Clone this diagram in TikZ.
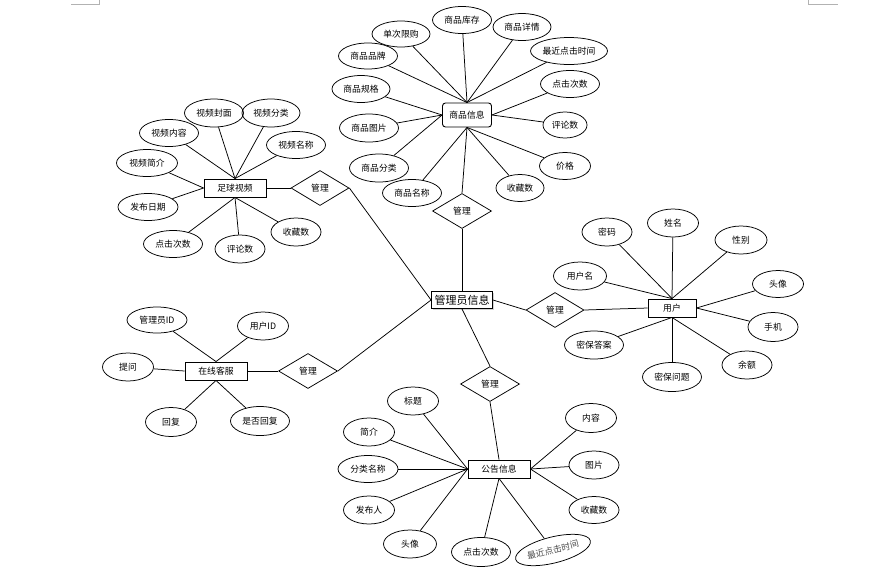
\documentclass[tikz,border=0pt]{standalone}
\usepackage{fontspec}
\setmainfont{Noto Sans CJK SC}
\usetikzlibrary{shapes.geometric,shadows}

\begin{document}
\begin{tikzpicture}[
    x=1pt, y=-1pt,
    attr/.style={ellipse, draw, minimum width=51, minimum height=28, inner sep=0pt, font=\fontsize{8.8}{9}\selectfont},
    attrw/.style={attr, minimum width=59},
    ent/.style={rectangle, draw, line width=0.9pt, minimum width=62, minimum height=18, inner sep=0pt, font=\fontsize{8.8}{9}\selectfont},
    rel/.style={diamond, draw, aspect=1.7, minimum width=59, minimum height=35, inner sep=0pt, font=\fontsize{8.8}{9}\selectfont},
    ln/.style={line width=0.75pt},
    line width=0.75pt
]
\useasboundingbox (0,0) rectangle (885,573);

% page corner marks
\draw[gray!60, line width=0.6pt] (71,4) -- (99,4) -- (99,0);
\draw[gray!60, line width=0.6pt] (808,0) -- (808,4) -- (838,4);

% central entity
\node[ent, minimum width=61, minimum height=17, font=\fontsize{11}{11}\selectfont,
      drop shadow={shadow xshift=1.5pt, shadow yshift=-1.5pt, fill=gray!70}, fill=white] (admin) at (462,300) {管理员信息};

% goods
\node[ent, rounded corners=3pt, minimum width=49, minimum height=24] (goods) at (467,115) {商品信息};
\node[attrw, minimum height=27] (gstock) at (462,20) {商品库存};
\node[attrw, minimum width=58, minimum height=26] (glimit) at (401,34) {单次限购};
\node[attrw, minimum width=58, minimum height=27] (gdetail) at (522,27) {商品详情};
\node[attrw, minimum width=77, minimum height=27] (glast) at (569,51) {最近点击时间};
\node[attrw, minimum height=26] (gbrand) at (368,56) {商品品牌};
\node[attrw, minimum width=58, minimum height=27] (gspec) at (361,89) {商品规格};
\node[attrw] (gpic) at (369,128) {商品图片};
\node[attrw] (gcat) at (379,168) {商品分类};
\node[attrw, minimum height=27] (gclick) at (570,84) {点击次数};
\node[attr, minimum width=44, minimum height=26] (gcomm) at (565,125) {评论数};
\node[attr, minimum height=27] (gprice) at (565,166) {价格};
\node[attr, minimum width=48, minimum height=27] (gfav) at (520,188) {收藏数};
\node[attrw, minimum height=27] (gname) at (412,193) {商品名称};
\node[rel] (mg1) at (462,211) {管理};

\draw[ln] (gstock) -- (goods.north);
\draw[ln] (glimit) -- (goods.north);
\draw[ln] (gdetail) -- (goods.north);
\draw[ln] (glast) -- (goods.north);
\draw[ln] (gbrand) -- (goods.north);
\draw[ln] (gspec) -- (goods.west);
\draw[ln] (gpic) -- (goods.west);
\draw[ln] (gcat) -- (goods.west);
\draw[ln] (gclick) -- (goods.east);
\draw[ln] (gcomm) -- (goods.east);
\draw[ln] (gprice) -- (goods.south);
\draw[ln] (gfav) -- (goods.south);
\draw[ln] (gname) -- (goods.south);
\draw[ln] (mg1.north) -- (goods.south);
\draw[ln] (mg1.south) -- (admin.north);

% video
\node[ent] (video) at (235,188) {足球视频};
\node[attrw] (vcover) at (214,113) {视频封面};
\node[attrw, minimum width=58] (vcat) at (271,113) {视频分类};
\node[attrw, minimum height=27] (vcont) at (169,133) {视频内容};
\node[attrw, minimum height=27] (vname) at (296,145) {视频名称};
\node[attrw, minimum width=61, minimum height=27] (vintro) at (147,163) {视频简介};
\node[attrw, minimum width=60, minimum height=27] (vdate) at (148,207) {发布日期};
\node[attrw, minimum height=27] (vclick) at (173,244) {点击次数};
\node[attr, minimum width=50] (vcomm) at (240,249) {评论数};
\node[attr, minimum width=50] (vfav) at (296,232) {收藏数};
\node[rel, minimum width=58] (mg2) at (320,188) {管理};

\draw[ln] (vcover) -- (video.north);
\draw[ln] (vcat) -- (video.north);
\draw[ln] (vcont) -- (video.north);
\draw[ln] (vname) -- (video.north);
\draw[ln] (vintro) -- (video.west);
\draw[ln] (vdate) -- (video.west);
\draw[ln] (vclick) -- (video.south);
\draw[ln] (vcomm) -- (video.south);
\draw[ln] (vfav) -- (video.south);
\draw[ln] (video.east) -- (mg2.west);
\draw[ln] (mg2.east) -- (admin.west);

% user
\node[ent, minimum width=48] (user) at (672,308) {用户};
\node[attr, minimum width=50] (upwd) at (607,232) {密码};
\node[attr] (uname) at (673,223) {姓名};
\node[attr, minimum width=52] (usex) at (741,240) {性别};
\node[attr, minimum width=53] (ulogin) at (580,276) {用户名};
\node[attr, minimum height=27] (uavatar) at (778,284) {头像};
\node[attr, minimum width=50, minimum height=29] (uphone) at (773,327) {手机};
\node[attr, minimum width=50] (ubal) at (747,365) {余额};
\node[attrw, minimum height=29] (uques) at (672,377) {密保问题};
\node[attrw] (uans) at (594,345) {密保答案};
\node[rel, minimum width=58] (mg3) at (555,310) {管理};

\draw[ln] (upwd) -- (user.north);
\draw[ln] (uname) -- (user.north);
\draw[ln] (usex) -- (user.north);
\draw[ln] (ulogin) -- (user.north);
\draw[ln] (uavatar) -- (user.east);
\draw[ln] (uphone) -- (user.east);
\draw[ln] (ubal) -- (user.south);
\draw[ln] (uques) -- (user.south);
\draw[ln] (uans) -- (user.south);
\draw[ln] (admin.east) -- (mg3.west);
\draw[ln] (mg3.east) -- (user.west);

% online service
\node[ent] (service) at (216,371) {在线客服};
\node[attrw, minimum width=60, minimum height=26] (sadmin) at (157,320) {管理员ID};
\node[attr] (suser) at (263,326) {用户ID};
\node[attr] (sask) at (128,367) {提问};
\node[attr, minimum height=29] (sreply) at (171,422) {回复};
\node[attrw, minimum height=29] (sdone) at (260,421) {是否回复};
\node[rel] (mg4) at (308,371) {管理};

\draw[ln] (sadmin) -- (service.north);
\draw[ln] (suser) -- (service.north);
\draw[ln] (sask) -- (service.west);
\draw[ln] (sreply) -- (service.south);
\draw[ln] (sdone) -- (service.south);
\draw[ln] (service.east) -- (mg4.west);
\draw[ln] (mg4.east) -- (admin.west);

% notice
\node[ent] (notice) at (499,469) {公告信息};
\node[attr] (ntitle) at (413,401) {标题};
\node[attr] (nintro) at (369,432) {简介};
\node[attrw, minimum width=60, minimum height=27] (ncat) at (368,469) {分类名称};
\node[attr] (npub) at (369,510) {发布人};
\node[attr, minimum width=53] (navatar) at (410,544) {头像};
\node[attrw, minimum height=29] (nclick) at (481,552) {点击次数};
\node[attr, minimum width=77, minimum height=26, rotate=14, text=black!70] (nlast) at (553,550) {最近点击时间};
\node[attr, minimum height=29] (ncont) at (591,418) {内容};
\node[attr, minimum width=50] (npic) at (594,465) {图片};
\node[attr, minimum width=50, minimum height=27] (nfav) at (594,510) {收藏数};
\node[rel] (mg5) at (490,384) {管理};

\draw[ln] (ntitle) -- (notice.west);
\draw[ln] (nintro) -- (notice.west);
\draw[ln] (ncat) -- (notice.west);
\draw[ln] (npub) -- (notice.west);
\draw[ln] (navatar) -- (notice.west);
\draw[ln] (nclick) -- (notice.south);
\draw[ln] (nlast) -- (notice.south);
\draw[ln] (ncont) -- (notice.east);
\draw[ln] (npic) -- (notice.east);
\draw[ln] (nfav) -- (notice.east);
\draw[ln] (admin.south) -- (mg5.north);
\draw[ln] (mg5.south) -- (notice.north);
\end{tikzpicture}
\end{document}
